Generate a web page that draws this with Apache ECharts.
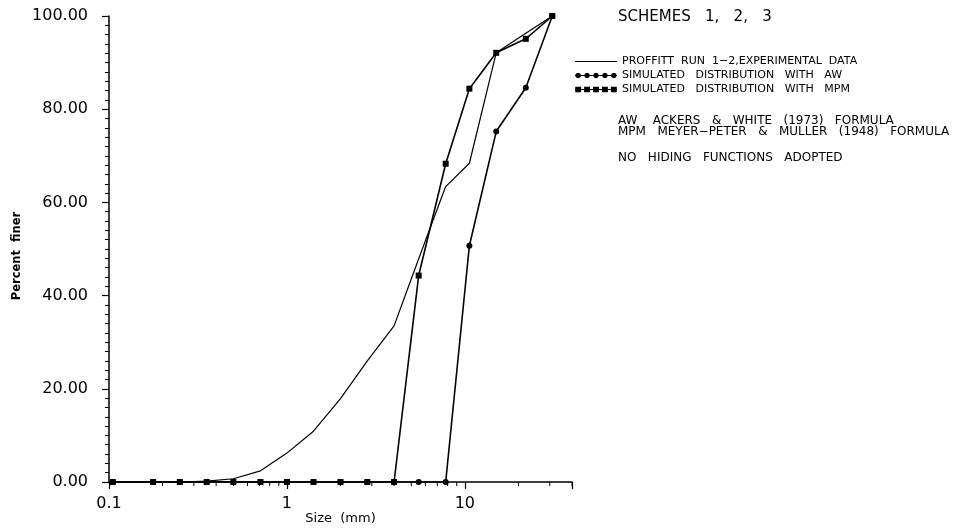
<!DOCTYPE html>
<html><head><meta charset="utf-8">
<script src="https://cdn.jsdelivr.net/npm/echarts@6/dist/echarts.min.js"></script>
<style>html,body{margin:0;padding:0;background:#fff}#c{width:967px;height:530px}</style>
</head><body><div id="c"></div>
<script>
// Sieve sizes (mm)
const sizes = [0.105, 0.177, 0.25, 0.354, 0.5, 0.71, 1.0, 1.41, 2.0, 2.83, 4.0, 5.5, 7.8, 10.6, 15.0, 22.0, 31.0];
// Percent finer
const experimental = [0, 0, 0, 0.2, 0.7, 2.4, 6.2, 10.9, 17.9, 26.0, 33.5, 47.9, 63.4, 68.4, 92.1, 96.3, 100];
const awSim = [0, 0, 0, 0, 0, 0, 0, 0, 0, 0, 0, 0, 0, 50.7, 75.2, 84.6, 100];
const mpmSim = [0, 0, 0, 0, 0, 0, 0, 0, 0, 0, 0, 44.3, 68.3, 84.4, 92.1, 95.1, 100];
// Minor tick positions on the log axis
const xMinorTicks = [0.2, 0.3, 0.4, 0.5, 0.6, 0.7, 0.8, 0.9, 2, 3, 4, 5, 6, 7, 8, 9, 20, 30, 40];
const seriesNames = ['PROFFITT  RUN  1\u22122,EXPERIMENTAL  DATA', 'SIMULATED   DISTRIBUTION   WITH   AW', 'SIMULATED   DISTRIBUTION   WITH   MPM'];
const noteLines = ['SCHEMES   1,   2,   3', 'AW    ACKERS   &   WHITE   (1973)   FORMULA', 'MPM   MEYER\u2212PETER   &   MULLER   (1948)   FORMULA', 'NO   HIDING   FUNCTIONS   ADOPTED'];

const font = 'DejaVu Sans';
const pair = ys => sizes.map((x, i) => [x, ys[i]]);

// invisible corner specks keep each legend glyph's box at 40x8
const corners = 'M0,0H0.01V0.01H0Z M39.99,7.99H40V8H39.99Z ';
function dotsIcon(shape) {
  let d = corners + 'M0,3.5H40V4.5H0Z';
  for (let i = 0; i < 5; i++) {
    const cx = 3 + i * 8.5;
    if (shape === 'circle') {
      const r = 2.8, k = r * 0.7;
      d += 'M' + (cx - r) + ',4 L' + (cx - k) + ',' + (4 - k) + ' L' + cx + ',' + (4 - r) + ' L' + (cx + k) + ',' + (4 - k) +
        ' L' + (cx + r) + ',4 L' + (cx + k) + ',' + (4 + k) + ' L' + cx + ',' + (4 + r) + ' L' + (cx - k) + ',' + (4 + k) + 'Z';
    } else {
      d += 'M' + (cx - 2.8) + ',1.2H' + (cx + 2.8) + 'V6.8H' + (cx - 2.8) + 'Z';
    }
  }
  return 'path://' + d;
}

const chart = echarts.init(document.getElementById('c'));
const option = {
  animation: false,
  backgroundColor: '#fff',
  grid: { left: 109, right: 395, top: 16, bottom: 47 },
  xAxis: {
    type: 'log', logBase: 10, min: 0.1, max: 40,
    name: 'Size  (mm)', nameLocation: 'middle', nameGap: 30, nameMoveOverlap: false,
    nameTextStyle: { fontFamily: font, fontSize: 13, color: '#000' },
    axisLine: { lineStyle: { color: '#000', width: 1.5 } },
    axisTick: { length: 7, lineStyle: { color: '#000', width: 1.2 } },
    axisLabel: {
      fontFamily: font, fontSize: 16, color: '#000', margin: 14, hideOverlap: false,
      formatter: v => { const l = Math.log10(v); return Math.abs(l - Math.round(l)) < 1e-3 ? String(+Number(v).toPrecision(3)) : ''; }
    },
    splitLine: { show: false }
  },
  yAxis: {
    type: 'value', min: 0, max: 100, interval: 20,
    name: 'Percent  finer', nameLocation: 'middle', nameGap: 86, nameRotate: 90, nameMoveOverlap: false,
    nameTextStyle: { fontFamily: font, fontSize: 11.5, fontWeight: 'bold', color: '#000', padding: [0, 14, 0, 0] },
    axisLine: { show: true, lineStyle: { color: '#000', width: 1.5 } },
    axisTick: { show: true, length: 7, lineStyle: { color: '#000', width: 1.2 } },
    minorTick: { show: true, splitNumber: 10, length: 4, lineStyle: { color: '#000', width: 1 } },
    axisLabel: { fontFamily: font, fontSize: 16, color: '#000', margin: 21, formatter: v => v.toFixed(2) },
    splitLine: { show: false }
  },
  legend: {
    orient: 'vertical', left: 570, top: 51, itemWidth: 42, itemHeight: 8, itemGap: 3,
    symbolKeepAspect: false,
    textStyle: { fontFamily: font, fontSize: 11, color: '#000' },
    selectedMode: false,
    data: [
      { name: seriesNames[0], icon: 'path://' + corners + 'M0,3.4H40V4.6H0Z' },
      { name: seriesNames[1], icon: dotsIcon('circle') },
      { name: seriesNames[2], icon: dotsIcon('square') }
    ]
  },
  graphic: [
    { type: 'text', left: 618, top: 10, style: { text: noteLines[0], font: '15px "DejaVu Sans"', fill: '#000' } },
    { type: 'text', left: 618, top: 115, style: { text: noteLines[1], font: '12px "DejaVu Sans"', fill: '#000' } },
    { type: 'text', left: 618, top: 126, style: { text: noteLines[2], font: '12px "DejaVu Sans"', fill: '#000' } },
    { type: 'text', left: 618, top: 152, style: { text: noteLines[3], font: '12px "DejaVu Sans"', fill: '#000' } }
  ],
  series: [
    {
      type: 'custom', silent: true, clip: false, z: 1,
      data: xMinorTicks.map(v => [v, 0]),
      renderItem: (params, api) => {
        const p = api.coord([api.value(0), 0]);
        return { type: 'line', shape: { x1: p[0], y1: p[1], x2: p[0], y2: p[1] + 4 }, style: { stroke: '#000', lineWidth: 1 } };
      }
    },
    {
      name: seriesNames[0], type: 'line', data: pair(experimental), symbol: 'none',
      lineStyle: { color: '#000', width: 1.2 }, itemStyle: { color: '#000' }, z: 3
    },
    {
      name: seriesNames[1], type: 'line', data: pair(awSim), symbol: 'circle', symbolSize: 6, showAllSymbol: true,
      lineStyle: { color: '#000', width: 1.6 }, itemStyle: { color: '#000' }, z: 4
    },
    {
      name: seriesNames[2], type: 'line', data: pair(mpmSim), symbol: 'rect', symbolSize: 6, showAllSymbol: true,
      lineStyle: { color: '#000', width: 1.6 }, itemStyle: { color: '#000' }, z: 4
    }
  ]
};
chart.setOption(option);
</script>
</body></html>
